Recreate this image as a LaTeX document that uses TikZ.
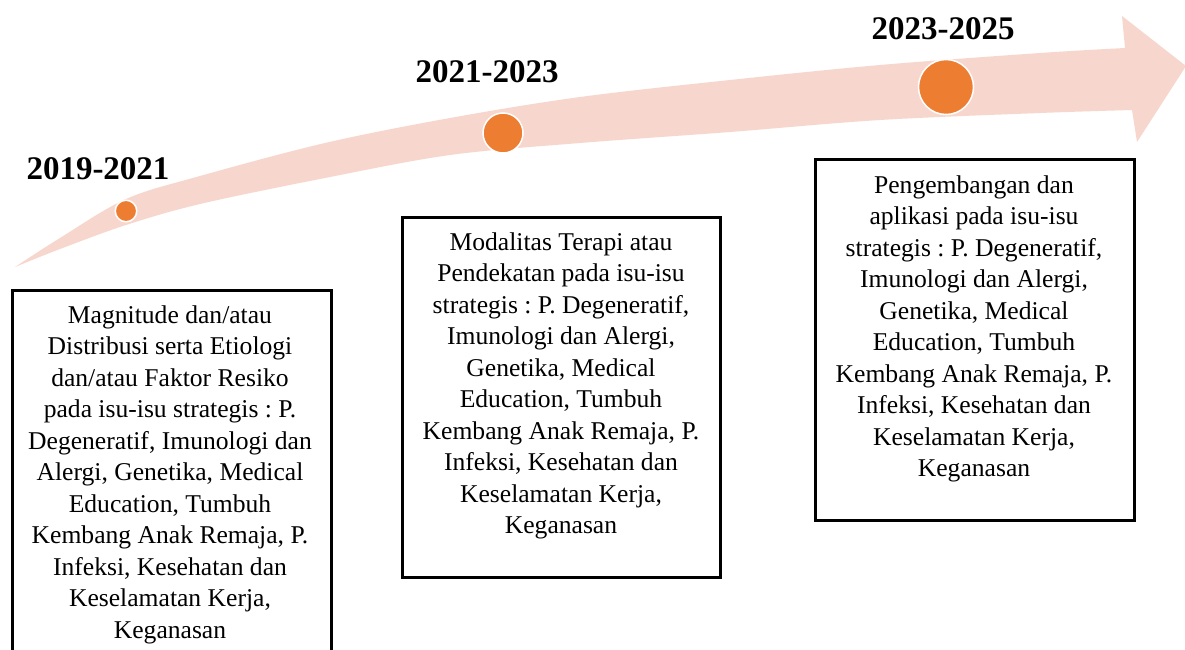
\documentclass[tikz,border=0pt]{standalone}
\usepackage{fontspec}
\setmainfont{Liberation Serif}
\frenchspacing
\definecolor{bandcol}{RGB}{247,215,205}
\definecolor{dotcol}{RGB}{237,125,49}
\tikzset{
  boxframe/.style={draw=black, line width=2.6pt, anchor=north west, inner sep=0pt},
  bodytext/.style={font=\fontsize{25.6}{31.5}\selectfont\frenchspacing, anchor=base, inner sep=0pt},
  yeartext/.style={font=\fontsize{33}{38}\selectfont\bfseries, anchor=base, inner sep=0pt},
  dotnode/.style={circle, fill=dotcol, draw=white, line width=1.5pt, inner sep=0pt},
}
\begin{document}
\begin{tikzpicture}[x=1pt, y=-1pt]
\clip (0,0) rectangle (1185,649);
\fill[white] (0,0) rectangle (1185,649);
% curved arrow band
\fill[bandcol] plot[smooth, tension=0.55] coordinates {(15,267) (60,238) (126,199) (200,176) (325,143) (450,118) (580,97) (730,80) (880,65) (1040,53) (1125,48)}
  -- (1122,16) -- (1186,66) -- (1137,142)
  -- plot[smooth, tension=0.55] coordinates {(1132,110) (1040,113) (880,120) (730,132) (580,143) (450,155) (325,178) (200,204) (126,225) (60,249) (15,267)}
  -- cycle;
% dots
\node[dotnode, minimum size=21.5pt] (d1) at (126,211) {};
\node[dotnode, minimum size=40pt] (d2) at (503,133) {};
\node[dotnode, minimum size=55pt] (d3) at (946,87) {};
% years
\node[yeartext] (y1) at (98,179) {2019-2021};
\node[yeartext] (y2) at (487,82) {2021-2023};
\node[yeartext] (y3) at (943,39) {2023-2025};
% boxes
\node[boxframe, minimum width=319pt, minimum height=400pt] (b1) at (11,289) {};
\node[boxframe, minimum width=318pt, minimum height=360pt] (b2) at (401,216) {};
\node[boxframe, minimum width=319pt, minimum height=361pt] (b3) at (814,158) {};
% texts
\node[bodytext] (t1) at (170,323) {\begin{tabular}[t]{@{}c@{}}
Magnitude dan/atau\\
Distribusi serta Etiologi\\
dan/atau Faktor Resiko\\
pada isu-isu strategis : P.\\
Degeneratif, Imunologi dan\\
Alergi, Genetika, Medical\\
Education, Tumbuh\\
Kembang Anak Remaja, P.\\
Infeksi, Kesehatan dan\\
Keselamatan Kerja,\\
Keganasan
\end{tabular}};
\node[bodytext] (t2) at (561,250) {\begin{tabular}[t]{@{}c@{}}
Modalitas Terapi atau\\
Pendekatan pada isu-isu\\
strategis : P. Degeneratif,\\
Imunologi dan Alergi,\\
Genetika, Medical\\
Education, Tumbuh\\
Kembang Anak Remaja, P.\\
Infeksi, Kesehatan dan\\
Keselamatan Kerja,\\
Keganasan
\end{tabular}};
\node[bodytext] (t3) at (974,193) {\begin{tabular}[t]{@{}c@{}}
Pengembangan dan\\
aplikasi pada isu-isu\\
strategis : P. Degeneratif,\\
Imunologi dan Alergi,\\
Genetika, Medical\\
Education, Tumbuh\\
Kembang Anak Remaja, P.\\
Infeksi, Kesehatan dan\\
Keselamatan Kerja,\\
Keganasan
\end{tabular}};
\end{tikzpicture}
\end{document}
